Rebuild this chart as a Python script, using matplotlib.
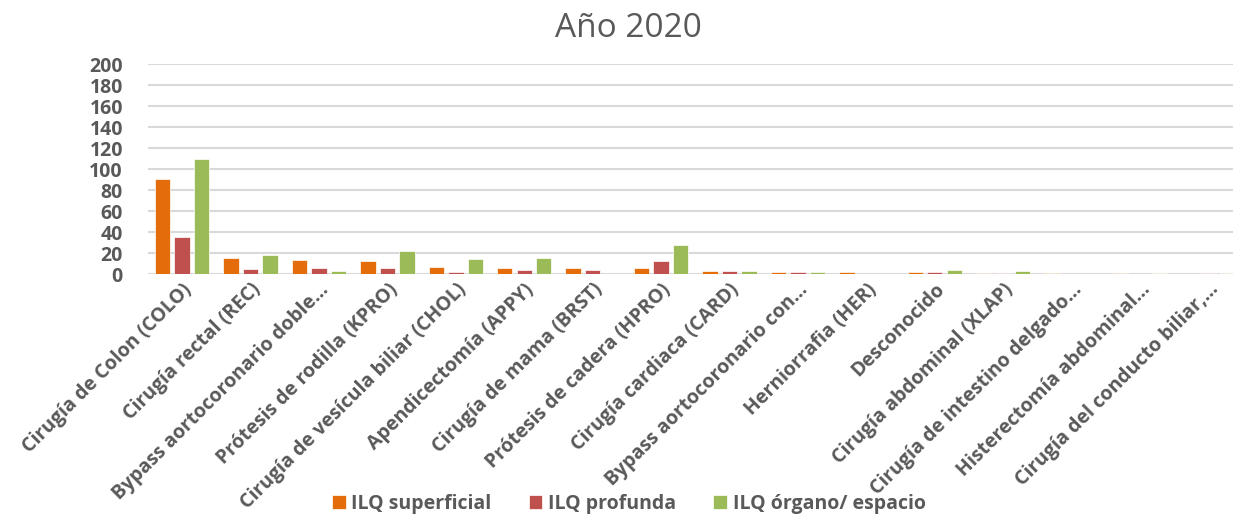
import matplotlib.pyplot as plt
import numpy as np

plt.rcParams['font.family'] = ['Open Sans', 'DejaVu Sans']

categories = [
    'Cirugía de Colon (COLO)', 'Cirugía rectal (REC)', 'Bypass aortocoronario doble…',
    'Prótesis de rodilla (KPRO)', 'Cirugía de vesícula biliar (CHOL)', 'Apendicectomía (APPY)',
    'Cirugía de mama (BRST)', 'Prótesis de cadera (HPRO)', 'Cirugía cardiaca (CARD)',
    'Bypass aortocoronario con…', 'Herniorrafia (HER)', 'Desconocido',
    'Cirugía abdominal (XLAP)', 'Cirugía de intestino delgado…', 'Histerectomía abdominal…',
    'Cirugía del conducto biliar,…',
]
superficial = [91, 15, 13, 12, 7, 6, 6, 6, 3, 2, 2, 2, 1, 1, 1, 0]
profunda = [35, 5, 6, 6, 2, 4, 4, 12, 3, 2, 0, 2, 1, 0, 0, 1]
organo = [110, 18, 3, 22, 14, 15, 0, 28, 3, 2, 0, 4, 3, 0, 1, 1]
series = ['ILQ superficial', 'ILQ profunda', 'ILQ órgano/ espacio']
colors = ['#E46C0A', '#C0504D', '#9BBB59']
yticks = list(range(0, 201, 20))

grey = '#595959'
fig = plt.figure(figsize=(12.33, 5.21), dpi=100)
ax = fig.add_axes([0.12, 0.474, 0.88, 0.403])

x = np.arange(len(categories))
w = 0.225
off = 0.285
for i, (vals, c, lab) in enumerate(zip([superficial, profunda, organo], colors, series)):
    ax.bar(x + (i - 1) * off, vals, w, color=c, label=lab, edgecolor='white', linewidth=0.5, zorder=3)

ax.set_ylim(0, 200)
ax.set_yticks(yticks)
ax.set_xlim(-0.5, 15.36)
ax.grid(axis='y', color='#D9D9D9', linewidth=1.5, zorder=0)
for s in ax.spines.values():
    s.set_visible(False)
ax.tick_params(length=0)
ax.set_yticklabels([str(v) for v in yticks], fontsize=14, fontweight='bold', color=grey)
ax.tick_params(axis='y', pad=18)
ax.set_xticks(x)
ax.set_xticklabels(categories, rotation=45, ha='right', va='top', rotation_mode='anchor',
                   fontsize=14, fontweight='bold', color=grey)
ax.tick_params(axis='x', pad=4)

fig.text(0.51, 0.945, 'Año 2020', fontsize=24, color=grey, ha='center', va='center')

leg = fig.legend(loc='lower center', bbox_to_anchor=(0.51, -0.02), ncol=3, frameon=False,
                 handlelength=0.7, handleheight=0.7, handletextpad=0.3, columnspacing=1.9,
                 prop={'size': 14, 'weight': 'bold'})
for t in leg.get_texts():
    t.set_color(grey)

fig.savefig('out.png', dpi=100)
